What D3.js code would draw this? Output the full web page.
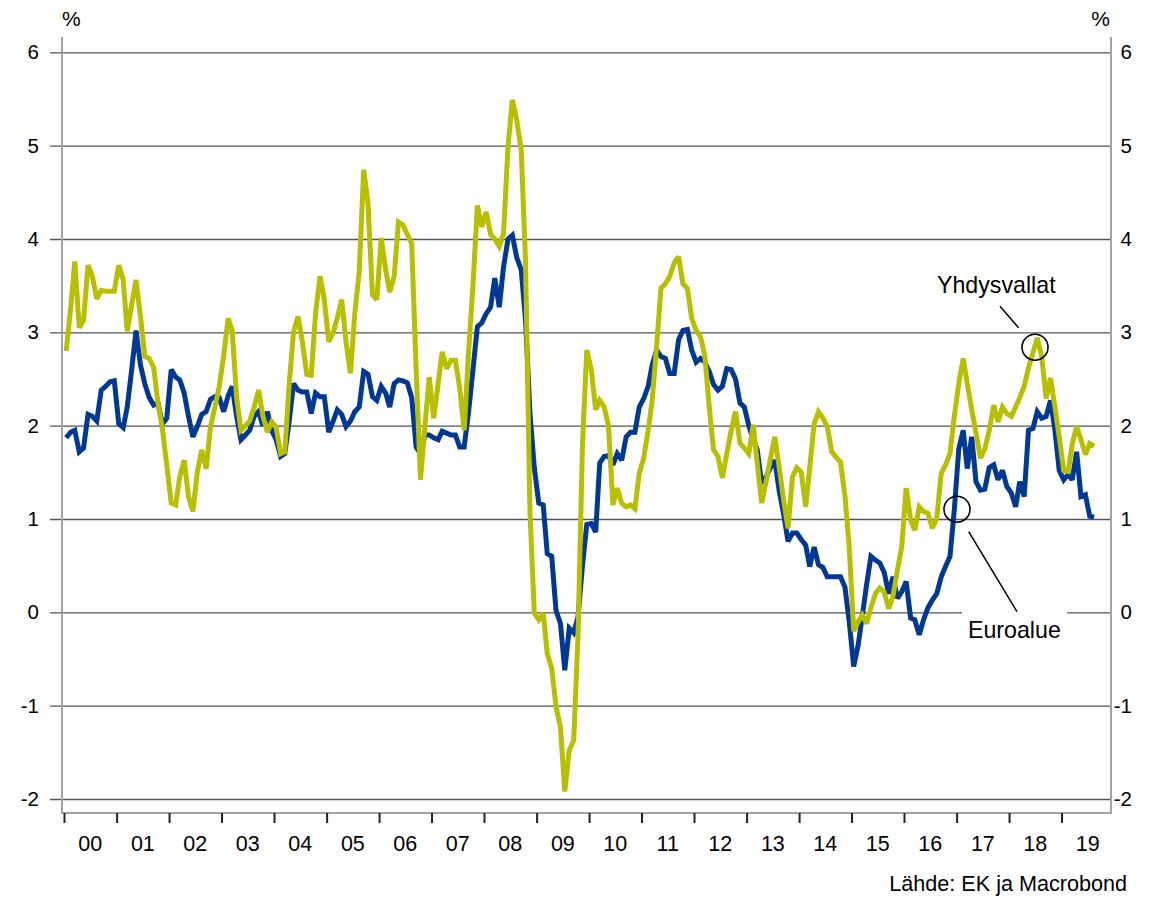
<!DOCTYPE html>
<html><head><meta charset="utf-8">
<script src="https://cdn.jsdelivr.net/npm/d3@7"></script>
<style>
body{margin:0;background:#fff}
text{font-family:"Liberation Sans",Arial,sans-serif;fill:#000}
</style>
</head><body>
<svg id="chart" width="1155" height="897"></svg>
<script>
// ---- data (monthly, Jan 2000 .. Aug 2019), % y/y ----
const startYear = 2000;
const yearLabels = ["00","01","02","03","04","05","06","07","08","09","10","11","12","13","14","15","16","17","18","19"];
const yTicks = [-2,-1,0,1,2,3,4,5,6];
const seriesNames = ["Euroalue","Yhdysvallat"];
const sourceText = "Lähde: EK ja Macrobond";

const euroArea = [
1.87,1.93,1.95,1.72,1.76,2.12,2.10,2.05,2.38,2.42,2.47,2.48,
2.02,1.98,2.20,2.60,3.02,2.65,2.45,2.30,2.22,2.24,2.02,2.08,
2.60,2.52,2.49,2.35,2.10,1.88,1.99,2.12,2.15,2.28,2.31,2.30,
2.15,2.32,2.42,2.10,1.85,1.90,1.95,2.10,2.15,2.00,2.15,1.95,
1.85,1.67,1.70,2.05,2.45,2.38,2.36,2.36,2.13,2.35,2.31,2.31,
1.93,2.05,2.17,2.12,1.99,2.05,2.15,2.20,2.58,2.55,2.31,2.27,
2.42,2.35,2.20,2.45,2.49,2.48,2.46,2.30,1.77,1.70,1.90,1.90,
1.87,1.85,1.94,1.92,1.90,1.90,1.77,1.77,2.15,2.60,3.06,3.10,
3.20,3.27,3.58,3.27,3.70,4.00,4.04,3.80,3.67,3.13,2.13,1.55,
1.17,1.15,0.63,0.60,0.02,-0.12,-0.62,-0.17,-0.22,-0.05,0.50,0.94,
0.95,0.86,1.60,1.67,1.68,1.58,1.70,1.63,1.88,1.93,1.93,2.20,
2.29,2.42,2.65,2.81,2.74,2.72,2.56,2.56,2.92,3.02,3.03,2.81,
2.68,2.72,2.68,2.58,2.44,2.38,2.42,2.61,2.60,2.50,2.24,2.20,
2.00,1.85,1.74,1.38,1.45,1.55,1.63,1.30,1.05,0.76,0.85,0.85,
0.78,0.72,0.49,0.70,0.51,0.48,0.38,0.38,0.38,0.38,0.27,-0.10,
-0.58,-0.35,-0.05,0.30,0.60,0.56,0.53,0.43,0.20,0.38,0.15,0.22,
0.33,-0.06,-0.08,-0.24,-0.08,0.05,0.13,0.20,0.38,0.49,0.60,1.10,
1.75,1.95,1.54,1.88,1.40,1.31,1.32,1.55,1.58,1.42,1.52,1.35,
1.28,1.13,1.40,1.24,1.95,1.97,2.15,2.08,2.10,2.27,1.95,1.52,
1.42,1.48,1.42,1.72,1.24,1.26,1.03,1.02
];

const usa = [
2.80,3.25,3.76,3.05,3.13,3.72,3.60,3.36,3.45,3.44,3.44,3.44,
3.72,3.56,3.01,3.30,3.56,3.17,2.74,2.72,2.62,2.24,1.96,1.58,
1.17,1.15,1.45,1.63,1.24,1.08,1.50,1.74,1.54,1.99,2.20,2.42,
2.75,3.15,3.02,2.30,1.95,2.00,2.05,2.20,2.38,2.10,1.93,2.04,
1.98,1.70,1.72,2.45,3.00,3.17,2.90,2.55,2.54,3.20,3.60,3.35,
2.90,3.00,3.15,3.35,2.90,2.56,3.20,3.65,4.74,4.38,3.40,3.35,
4.01,3.67,3.43,3.60,4.18,4.15,4.05,3.95,2.60,1.42,2.00,2.52,
2.08,2.45,2.79,2.61,2.70,2.70,2.40,1.95,2.80,3.50,4.36,4.13,
4.29,4.05,4.00,3.92,4.06,4.99,5.49,5.27,4.95,3.75,1.06,-0.01,
-0.08,-0.01,-0.44,-0.60,-1.01,-1.23,-1.92,-1.48,-1.37,-0.25,1.80,2.81,
2.60,2.17,2.27,2.20,2.00,1.15,1.33,1.17,1.13,1.15,1.11,1.49,
1.65,1.95,2.27,2.85,3.47,3.52,3.60,3.74,3.81,3.52,3.47,3.15,
3.02,2.95,2.75,2.20,1.74,1.67,1.44,1.70,1.95,2.15,1.81,1.76,
1.70,2.01,1.60,1.17,1.40,1.65,1.88,1.55,1.20,0.90,1.45,1.55,
1.50,1.13,1.55,2.02,2.15,2.08,1.99,1.72,1.66,1.61,1.25,0.70,
-0.20,-0.10,-0.03,-0.12,0.05,0.20,0.26,0.22,0.04,0.17,0.45,0.70,
1.33,0.99,0.88,1.13,1.08,1.06,0.90,1.01,1.49,1.58,1.70,2.10,
2.45,2.72,2.45,2.17,1.92,1.65,1.75,1.95,2.22,2.04,2.20,2.13,
2.10,2.20,2.30,2.42,2.62,2.78,2.94,2.74,2.29,2.51,2.20,1.88,
1.52,1.51,1.80,1.99,1.85,1.69,1.81,1.78
];

// annotation anchors in data terms: [month index, value]
const usMarker = [221.0, 2.84];
const euMarker = [203.2, 1.105];

// ---- layout ----
const svg = d3.select("#chart");
const L = 62, R = 1111, T = 37, B = 813;
const x = d3.scaleTime()
  .domain([new Date(startYear,0,1), new Date(startYear+20,0,1)])
  .range([64, 1114]);
const y = d3.scaleLinear().domain([-2,6]).range([799, 52.3]);
const monthDate = i => new Date(startYear, i, 16);
const colors = {eu:"#003893", us:"#b7bf00"};
const fmt = d => String(d);

// gridlines + left labels via axis
const gAxisL = svg.append("g").attr("transform",`translate(${R},0)`)
  .call(d3.axisLeft(y).tickValues(yTicks).tickSize(R-50).tickPadding(11).tickFormat(fmt));
gAxisL.select(".domain").remove();
gAxisL.selectAll(".tick line").attr("stroke","#555").attr("stroke-width",1.3);
gAxisL.selectAll(".tick text").attr("font-size",20.5).attr("font-family","Liberation Sans, Arial, sans-serif").attr("fill","#000");

// right labels
const gAxisR = svg.append("g").attr("transform",`translate(${R},0)`)
  .call(d3.axisRight(y).tickValues(yTicks).tickSize(0).tickFormat(fmt));
gAxisR.select(".domain").remove();
gAxisR.selectAll(".tick text").attr("font-size",20.5).attr("font-family","Liberation Sans, Arial, sans-serif")
  .attr("fill","#000").attr("text-anchor","end").attr("x",21);

// frame (left, right, bottom) in light grey
svg.append("path")
  .attr("d",`M${L},${T}V${B}H${R}V${T}`)
  .attr("fill","none").attr("stroke","#a3a3a3").attr("stroke-width",2);

// x axis ticks
const yearTicks = d3.range(startYear, startYear+20).map(yv => new Date(yv,0,1));
const gX = svg.append("g").attr("transform",`translate(0,${B})`)
  .call(d3.axisBottom(x).tickValues(yearTicks).tickSize(10).tickFormat(""));
gX.select(".domain").remove();
gX.selectAll(".tick line").attr("stroke","#222").attr("stroke-width",2);

// x labels centred in year
svg.append("g").selectAll("text").data(yearLabels).join("text")
  .attr("x",(d,i)=> (x(new Date(startYear+i,0,1)) + x(new Date(startYear+i+1,0,1)))/2)
  .attr("y",851).attr("text-anchor","middle").attr("font-size",21.5).text(d=>d);

// % labels
svg.append("text").attr("x",62).attr("y",26).attr("font-size",21).text("%");
svg.append("text").attr("x",1110).attr("y",26).attr("font-size",21).attr("text-anchor","end").text("%");

// lines
const line = d3.line().x((d,i)=>x(monthDate(i))).y(d=>y(d));
svg.append("path").datum(euroArea).attr("d",line)
  .attr("fill","none").attr("stroke",colors.eu).attr("stroke-width",5)
  .attr("stroke-linejoin","miter").attr("stroke-miterlimit",2.5);
svg.append("path").datum(usa).attr("d",line)
  .attr("fill","none").attr("stroke",colors.us).attr("stroke-width",5)
  .attr("stroke-linejoin","miter").attr("stroke-miterlimit",2.5);

// annotations
const mx = m => x(monthDate(0)) + (x(monthDate(12)) - x(monthDate(0))) * m / 12;
const usC = [mx(usMarker[0]), y(usMarker[1])];
const euC = [mx(euMarker[0]), y(euMarker[1])];
svg.append("circle").attr("cx",usC[0]).attr("cy",usC[1]).attr("r",13)
  .attr("fill","none").attr("stroke","#000").attr("stroke-width",1.6);
svg.append("circle").attr("cx",euC[0]).attr("cy",euC[1]).attr("r",13)
  .attr("fill","none").attr("stroke","#000").attr("stroke-width",1.6);
svg.append("line").attr("x1",usC[0]-35).attr("y1",usC[1]-41).attr("x2",usC[0]-16.5).attr("y2",usC[1]-19.5)
  .attr("stroke","#000").attr("stroke-width",1.5);
svg.append("text").attr("x",937).attr("y",293).attr("font-size",23.2).text(seriesNames[1]);

svg.append("rect").attr("x",962).attr("y",606).attr("width",105).attr("height",40).attr("fill","#fff");
svg.append("line").attr("x1",euC[0]+11.7).attr("y1",euC[1]+22.4).attr("x2",euC[0]+60).attr("y2",euC[1]+102.4)
  .attr("stroke","#000").attr("stroke-width",1.5);
svg.append("text").attr("x",968).attr("y",638).attr("font-size",23.2).text(seriesNames[0]);

// source
svg.append("text").attr("x",1127).attr("y",891).attr("font-size",21.6).attr("text-anchor","end").text(sourceText);
</script>
</body></html>
